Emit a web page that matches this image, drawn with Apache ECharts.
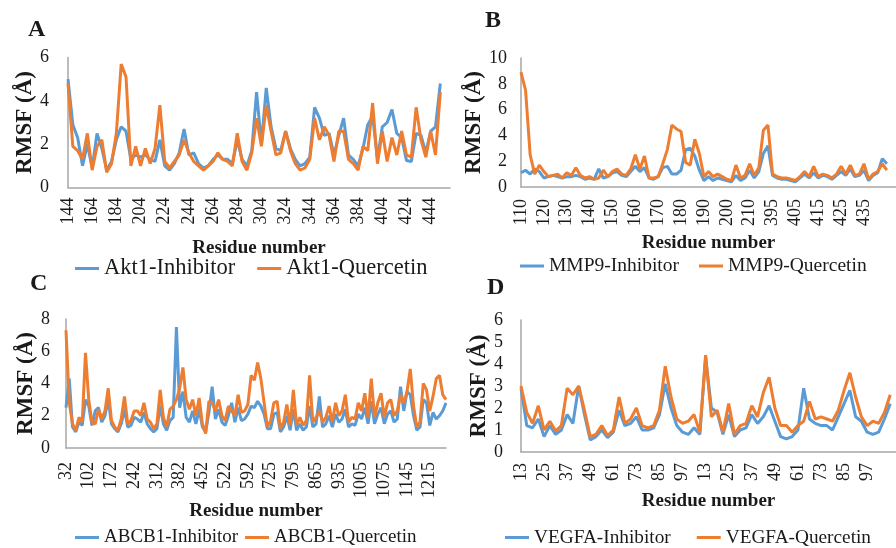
<!DOCTYPE html>
<html><head><meta charset="utf-8">
<script src="https://cdn.jsdelivr.net/npm/echarts@6/dist/echarts.min.js"></script>
<style>html,body{margin:0;padding:0;background:#fff}#c{width:896px;height:548px}</style>
</head><body><div id="c"></div>
<script>
// ---------- DATA ----------
// residue segments [start, end, step] used to build the category axes
const akt1Segments = [[144, 460, 4]];
const mmp9Segments = [[110, 218, 2], [395, 449, 2]];
const abcb1Segments = [[32, 652, 10], [725, 1265, 10]];
const vegfaSegments = [[13, 106, 3], [13, 112, 3]];

// tick labels shown on each x axis
const akt1Ticks = ['144','164','184','204','224','244','264','284','304','324','344','364','384','404','424','444'];
const mmp9Ticks = ['110','120','130','140','150','160','170','180','190','200','210','395','405','415','425','435'];
const abcb1Ticks = ['32','102','172','242','312','382','452','522','592','725','795','865','935','1005','1075','1145','1215'];
const vegfaTicks = ['13','25','37','49','61','73','85','97','13','25','37','49','61','73','85','97'];

// RMSF values (Å)
const akt1Inhibitor = [5.0,2.9,2.3,1.0,2.0,0.9,2.5,1.8,0.8,1.2, 2.2,2.8,2.6,1.3,1.5,1.4,1.5,1.3,1.2,2.2,
  1.0,0.8,1.1,1.6,2.7,1.5,1.6,1.1,0.9,1.0, 1.3,1.5,1.3,1.3,1.1,2.2,1.3,1.0,1.7,4.4,
  2.0,4.6,2.8,1.8,1.7,2.6,1.8,1.3,1.0,1.1, 1.4,3.7,3.2,2.4,2.5,1.5,2.4,3.2,1.5,1.3,
  1.0,1.8,2.9,3.3,1.3,2.8,3.0,3.6,2.5,2.3, 1.25,1.2,2.5,2.4,1.6,2.6,2.8,4.8];
const akt1Quercetin = [4.8,1.9,1.7,1.3,2.5,0.8,1.9,2.2,0.7,1.1, 2.5,5.7,5.1,1.0,1.9,1.0,1.8,1.1,1.8,3.8,
  1.2,0.9,1.2,1.5,2.2,1.6,1.2,1.0,0.8,1.0, 1.2,1.6,1.3,1.2,1.0,2.5,1.2,0.8,1.6,3.2,
  1.9,3.8,2.6,1.5,1.6,2.6,1.7,1.1,0.8,0.9, 1.3,3.2,2.2,2.8,2.4,1.2,2.6,2.6,1.3,1.1,
  0.8,1.9,1.7,3.9,1.1,2.6,1.2,2.3,1.5,2.6, 1.5,1.4,3.7,2.2,1.4,2.6,1.5,4.4];

const mmp9Inhibitor = [1.1,1.3,1.0,1.4,1.2,0.7,0.8,0.9,0.8,0.7, 0.8,0.8,0.9,0.8,0.6,0.7,0.6,1.4,0.7,0.8,
  1.1,1.2,0.9,0.8,1.2,1.6,1.2,1.5,0.7,0.6, 0.8,1.5,1.6,1.0,1.0,1.3,2.9,3.0,2.4,1.3,
  0.5,0.8,0.5,0.7,0.6,0.5,0.4,0.9,0.5,0.7, 1.3,0.7,1.2,2.6,3.2,0.9,0.7,0.6,0.6,0.5,
  0.4,0.7,1.0,0.7,1.1,0.7,0.9,0.8,0.6,0.9, 1.2,0.9,1.4,0.8,0.9,1.3,0.5,0.9,1.1,2.2, 1.8];
const mmp9Quercetin = [8.9,7.5,2.5,1.0,1.7,1.2,0.8,0.9,1.0,0.7, 1.1,0.9,1.5,0.9,0.7,0.8,0.6,0.7,1.3,0.8,
  1.2,1.4,1.0,0.9,1.4,2.5,1.4,2.4,0.7,0.7, 0.8,1.8,2.9,4.8,4.5,4.3,1.9,1.7,3.7,2.6,
  0.8,1.2,0.8,1.0,0.8,0.6,0.5,1.7,0.7,0.9, 1.8,0.9,1.5,4.4,4.8,1.0,0.8,0.7,0.7,0.6,
  0.5,0.8,1.2,0.8,1.6,0.8,1.0,0.9,0.7,1.0, 1.6,1.0,1.7,0.9,1.0,1.8,0.6,1.0,1.2,1.8, 1.3];

const abcb1Inhibitor = [2.5,4.3,1.3,1.0,1.6,1.4,3.0,2.6,1.4,2.3, 2.5,1.6,2.0,3.0,1.5,1.2,1.0,1.5,2.4,1.3,
  1.4,1.9,1.8,1.6,2.2,1.5,1.2,1.0,1.2,2.6, 1.5,1.1,1.7,1.9,7.5,2.5,3.5,1.9,1.6,2.3,
  1.5,2.4,1.3,1.0,2.2,3.8,1.8,2.4,1.6,1.4, 2.0,2.8,1.6,2.5,1.7,1.8,2.1,2.6,2.5,2.9,
  2.6,2.1,1.2,1.2,2.1,2.2,1.0,1.3,2.0,1.1, 2.4,1.1,1.5,1.1,1.3,2.6,1.3,1.5,3.2,1.3,
  1.5,2.0,1.3,2.1,1.6,1.8,2.4,1.3,1.5,1.4, 2.1,1.8,2.5,1.5,2.9,1.5,2.1,2.5,1.5,2.1,
  2.3,1.6,1.8,3.8,2.3,3.5,3.3,2.0,1.1,1.3, 3.0,2.8,1.4,2.2,1.8,2.0,2.3,2.8];
const abcb1Quercetin = [7.3,2.8,1.5,1.1,1.9,1.6,5.9,3.0,1.6,1.5, 2.4,1.8,2.3,3.7,1.7,1.3,1.1,1.8,3.2,1.5,
  1.7,2.3,2.3,2.0,2.8,1.8,1.6,1.2,1.5,3.6, 1.9,1.3,2.4,2.6,3.0,3.7,5.0,3.0,2.4,3.0,
  2.0,3.1,1.5,0.9,2.9,2.8,2.3,3.0,2.0,1.7, 2.6,2.3,2.0,3.3,2.2,2.3,2.7,4.5,4.2,5.3,
  4.3,2.8,1.3,1.7,2.8,2.9,1.2,1.6,2.7,1.4, 3.6,1.4,1.9,1.4,1.7,4.5,1.6,1.9,2.3,1.6,
  1.9,2.6,1.6,2.8,2.0,2.3,3.3,1.6,1.9,1.8, 2.8,2.3,3.4,1.9,4.3,1.9,2.8,3.4,1.9,2.8,
  3.0,2.0,2.3,3.3,2.8,3.5,4.9,2.6,1.3,1.6, 4.0,3.6,2.3,3.2,4.3,4.5,3.3,3.0];

const vegfaInhibitor = [2.9,1.2,1.1,1.5,0.7,1.2,0.8,1.0,1.7,1.3, 3.0,1.7,0.55,0.7,1.0,0.65,0.9,1.9,1.2,1.3,
  1.6,1.0,1.0,1.1,1.7,3.1,2.0,1.2,0.9,0.8, 1.1,0.8,4.3,2.0,1.8,0.8,1.7,0.7,1.0,1.1,
  1.7,1.3,1.6,2.1,1.4,0.7,0.6,0.7,1.0,2.9, 1.5,1.3,1.2,1.2,1.0,1.6,2.2,2.8,1.6,1.4,
  0.9,0.8,0.9,1.5,2.2];
const vegfaQuercetin = [3.0,1.8,1.3,2.1,1.0,1.4,0.95,1.2,2.9,2.6, 3.0,1.9,0.7,0.8,1.2,0.75,1.0,2.5,1.3,1.5,
  2.0,1.2,1.1,1.2,1.9,3.9,2.5,1.5,1.3,1.4, 1.7,0.9,4.4,1.6,1.9,0.9,2.2,0.8,1.2,1.3,
  2.1,1.6,2.7,3.4,2.0,1.2,1.2,0.9,1.2,1.4, 2.3,1.5,1.6,1.5,1.4,1.9,2.8,3.6,2.5,1.6,
  1.2,1.4,1.3,1.8,2.6];

// ---------- BUILD ----------
function buildCats(segs){ const out=[]; segs.forEach(([a,b,s])=>{ for(let r=a;r<=b;r+=s) out.push(String(r)); }); return out; }
const FONT = '"Liberation Serif","Times New Roman",serif';
const BLUE = '#5B9BD5', ORANGE = '#ED7D31', AXIS = '#a6a6a6', TXT = '#1a1a1a';

const panels = [
  {letter:'A', lx:28, ly:18, cats:buildCats(akt1Segments), ticks:akt1Ticks, every:5,
   grid:{left:68, top:57.5, width:382, height:130}, max:6, interval:2,
   s:[['Akt1-Inhibitor',akt1Inhibitor],['Akt1-Quercetin',akt1Quercetin]],
   legend:{left:75, top:257, fs:22.5, gap:22}, xGap:51, yGap:25, xLabMargin:10, yLabMargin:19},
  {letter:'B', lx:485, ly:9, cats:buildCats(mmp9Segments), ticks:mmp9Ticks, every:5,
   grid:{left:521, top:58, width:383, height:129}, max:10, interval:2,
   s:[['MMP9-Inhibitor',mmp9Inhibitor],['MMP9-Quercetin',mmp9Quercetin]],
   legend:{left:520, top:256, fs:19.5, gap:20}, xGap:47, yGap:30, xLabMargin:12, yLabMargin:14},
  {letter:'C', lx:30, ly:272, cats:buildCats(abcb1Segments), ticks:abcb1Ticks, every:7,
   grid:{left:66, top:319, width:380, height:129}, max:8, interval:2,
   s:[['ABCB1-Inhibitor',abcb1Inhibitor],['ABCB1-Quercetin',abcb1Quercetin]],
   legend:{left:75, top:528, fs:19, gap:7}, xGap:53, yGap:28.5, xLabMargin:14, yLabMargin:16},
  {letter:'D', lx:487, ly:276, cats:buildCats(vegfaSegments), ticks:vegfaTicks, every:4,
   grid:{left:521, top:320, width:379, height:132}, max:6, interval:1,
   s:[['VEGFA-Inhibitor',vegfaInhibitor],['VEGFA-Quercetin',vegfaQuercetin]],
   legend:{left:505, top:528, fs:19.3, gap:26}, xGap:40, yGap:28, xLabMargin:11, yLabMargin:18}
];

const option = {animation:false, backgroundColor:'#fff', title:[], grid:[], xAxis:[], yAxis:[], legend:[], series:[]};
panels.forEach((p,k)=>{
  option.title.push({text:p.letter, left:p.lx, top:p.ly, padding:0,
    textStyle:{fontFamily:FONT, fontWeight:'bold', fontSize:24, color:TXT}});
  option.grid.push(Object.assign({containLabel:false}, p.grid));
  const every = p.every, nt = p.ticks.length;
  option.xAxis.push({type:'category', gridIndex:k, data:p.cats, boundaryGap:false,
    name:'Residue number', nameLocation:'middle', nameGap:p.xGap,
    nameTextStyle:{fontFamily:FONT, fontWeight:'bold', fontSize:19, color:TXT},
    axisLine:{lineStyle:{color:AXIS, width:1.5}}, axisTick:{show:false}, splitLine:{show:false},
    axisLabel:{rotate:90, margin:p.xLabMargin, fontFamily:FONT, fontSize:18, color:TXT,
      interval:(idx)=> idx % every === 0 && idx/every < nt,
      formatter:(v,idx)=> p.ticks[Math.round(idx/every)] }});
  option.yAxis.push({type:'value', gridIndex:k, min:0, max:p.max, interval:p.interval,
    name:'RMSF (Å)', nameLocation:'middle', nameRotate:90, nameGap:p.yGap,
    nameTextStyle:{fontFamily:FONT, fontWeight:'bold', fontSize:23, color:TXT},
    axisLine:{show:true, lineStyle:{color:AXIS, width:1.5}}, axisTick:{show:false}, splitLine:{show:false},
    axisLabel:{margin:p.yLabMargin, fontFamily:FONT, fontSize:18, color:TXT}});
  option.legend.push({left:p.legend.left, top:p.legend.top, width:600, padding:0, orient:'horizontal',
    data:[p.s[0][0], p.s[1][0]],
    icon:'rect', itemWidth:24, itemHeight:3, itemGap:p.legend.gap,
    textStyle:{fontFamily:FONT, fontSize:p.legend.fs, color:TXT}});
  [[p.s[0],BLUE],[p.s[1],ORANGE]].forEach(([ser,col])=>{
    option.series.push({type:'line', name:ser[0], xAxisIndex:k, yAxisIndex:k, data:ser[1],
      showSymbol:false, symbol:'none', lineStyle:{color:col, width:3}, itemStyle:{color:col}});
  });
});
const chart = echarts.init(document.getElementById('c'), null, {renderer:'canvas'});
chart.setOption(option);
</script></body></html>
